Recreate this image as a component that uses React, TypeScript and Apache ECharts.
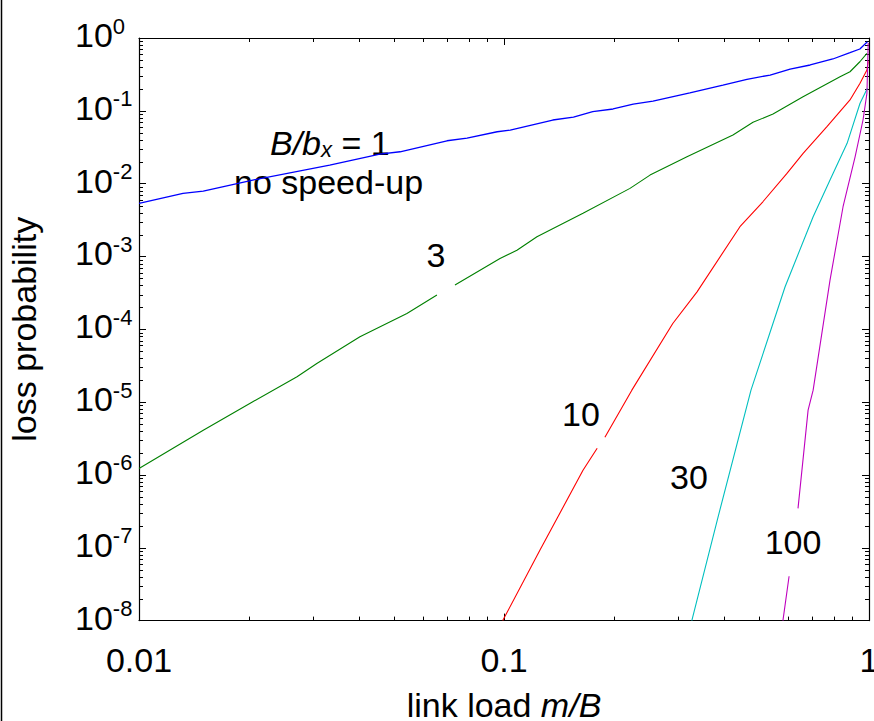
import React, { useEffect, useRef } from "react";
import * as echarts from "echarts";

// ---- data ----
const X_TICK_LABELS = ["0.01", "0.1", "1"]; // for 10^-2, 10^-1, 10^0
const Y_TICK_EXPONENTS = ["0", "-1", "-2", "-3", "-4", "-5", "-6", "-7", "-8"];

const blueX = [0.01, 0.0132, 0.015, 0.0205, 0.0333, 0.0457, 0.0519, 0.0698, 0.0792, 0.0958, 0.104, 0.136, 0.155, 0.175, 0.199, 0.226, 0.256, 0.323, 0.398, 0.463, 0.536, 0.608, 0.69, 0.796, 0.887, 0.944, 0.99];
const blueY = [5.36e-3, 7.36e-3, 7.91e-3, 0.0112, 0.018, 0.0255, 0.0274, 0.0388, 0.0423, 0.0516, 0.0545, 0.0748, 0.0822, 0.0972, 0.106, 0.124, 0.136, 0.177, 0.226, 0.271, 0.31, 0.375, 0.426, 0.515, 0.628, 0.706, 0.889];

const greenX = [0.01, 0.015, 0.0205, 0.0271, 0.0307, 0.0403, 0.0542, 0.0655, 0.07, 0.0734, 0.0975, 0.1085, 0.1231, 0.1646, 0.2214, 0.2512, 0.3172, 0.4239, 0.481, 0.5458, 0.6596, 0.833, 0.887, 0.944, 0.987];
const greenY = [1.23e-6, 4.12e-6, 1.01e-5, 2.23e-5, 3.4e-5, 7.89e-5, 1.65e-4, 2.95e-4, null, 4.05e-4, 9.4e-4, 1.22e-3, 1.87e-3, 3.91e-3, 8.61e-3, 0.0131, 0.0234, 0.0466, 0.0696, 0.0904, 0.156, 0.294, 0.344, 0.472, 0.616];

const redX = [0.0992, 0.1255, 0.1646, 0.18, 0.184, 0.189, 0.224, 0.29, 0.338, 0.443, 0.512, 0.596, 0.66, 0.767, 0.887, 0.945, 0.987, 0.995];
const redY = [1e-8, 9.3e-8, 1.16e-6, 2.33e-6, null, 3.3e-6, 1.46e-5, 1.2e-4, 3.27e-4, 2.56e-3, 5.64e-3, 0.0138, 0.0261, 0.0605, 0.141, 0.239, 0.363, 0.48];

const cyanX = [0.327, 0.386, 0.475, 0.589, 0.703, 0.782, 0.871, 0.945, 0.99];
const cyanY = [1e-8, 2.66e-7, 1.46e-5, 3.84e-4, 3.51e-3, 0.0112, 0.0358, 0.127, 0.204];

const magentaX = [0.581, 0.604, 0.62, 0.639, 0.681, 0.703, 0.782, 0.849, 0.916, 0.963, 0.987, 0.995];
const magentaY = [1e-8, 4.07e-8, null, 3.47e-7, 7.76e-6, 1.46e-5, 4.74e-4, 4.82e-3, 0.0234, 0.0748, 0.174, 0.853];

const SERIES = [
  { name: "1", x: blueX, y: blueY, color: "#0000ff", w: 1.3 },
  { name: "3", x: greenX, y: greenY, color: "#008000", w: 1.1 },
  { name: "10", x: redX, y: redY, color: "#ff0000", w: 1.1 },
  { name: "30", x: cyanX, y: cyanY, color: "#00bfbf", w: 1.1 },
  { name: "100", x: magentaX, y: magentaY, color: "#bf00bf", w: 1.1 },
];

const X_DECADES = [-2, -1];
const Y_DECADES = [-8, -7, -6, -5, -4, -3, -2, -1];
const MINOR_MULT = [2, 3, 4, 5, 6, 7, 8, 9];

const FONT = '"Liberation Sans", Arial, Helvetica, sans-serif';

export default function App() {
  const ref = useRef<HTMLDivElement>(null);

  useEffect(() => {
    if (!ref.current) return;
    const chart = echarts.init(ref.current, null, { renderer: "svg" });

    const minorTicks: number[][] = [];
    X_DECADES.forEach((d) => MINOR_MULT.forEach((m) => minorTicks.push([m * Math.pow(10, d), 1e-8, 0])));
    Y_DECADES.forEach((d) => MINOR_MULT.forEach((m) => minorTicks.push([0.01, m * Math.pow(10, d), 1])));

    const tickStyle = { lineStyle: { color: "#000", width: 1 } };

    const option: any = {
      animation: false,
      backgroundColor: "#fff",
      grid: { left: 139, right: 5, top: 38, bottom: 100.4, containLabel: false, outerBoundsMode: "none" },
      xAxis: [
        {
          type: "log",
          logBase: 10,
          min: 0.01,
          max: 1,
          position: "bottom",
          axisLine: { lineStyle: { color: "#000", width: 1.2 } },
          axisTick: { inside: true, length: 7, ...tickStyle },
          splitLine: { show: false },
          axisLabel: {
            margin: 22,
            fontSize: 34,
            fontFamily: FONT,
            color: "#000",
            formatter: (v: number) => X_TICK_LABELS[Math.round(Math.log10(v)) + 2],
          },
          name: "link load {i|m/B}",
          nameLocation: "middle",
          nameGap: 69,
          nameTextStyle: {
            fontSize: 34,
            lineHeight: 30,
            fontFamily: FONT,
            color: "#000",
            rich: { i: { fontSize: 34, lineHeight: 30, fontFamily: FONT, fontStyle: "italic", color: "#000" } },
          },
        },
        {
          type: "log",
          logBase: 10,
          min: 0.01,
          max: 1,
          position: "top",
          axisLine: { lineStyle: { color: "#000", width: 1.2 } },
          axisTick: { inside: true, length: 7, ...tickStyle },
          splitLine: { show: false },
          axisLabel: { show: false },
        },
      ],
      yAxis: [
        {
          type: "log",
          logBase: 10,
          min: 1e-8,
          max: 1,
          position: "left",
          axisLine: { lineStyle: { color: "#000", width: 1.2 } },
          axisTick: { inside: true, length: 7, ...tickStyle },
          splitLine: { show: false },
          axisLabel: {
            align: "left",
            margin: 64,
            verticalAlign: "middle",
            padding: [0, 0, 6, 0],
            formatter: (v: number) => `{b|10}{s|${Y_TICK_EXPONENTS[-Math.round(Math.log10(v))]}}`,
            rich: {
              b: { fontSize: 34, lineHeight: 40, fontFamily: FONT, color: "#000" },
              s: { fontSize: 22, lineHeight: 10, verticalAlign: "top", fontFamily: FONT, color: "#000" },
            },
          },
          name: "loss probability",
          nameLocation: "middle",
          nameGap: 98,
          nameTextStyle: { fontSize: 34, fontFamily: FONT, color: "#000" },
        },
        {
          type: "log",
          logBase: 10,
          min: 1e-8,
          max: 1,
          position: "right",
          axisLine: { lineStyle: { color: "#000", width: 1.2 } },
          axisTick: { inside: true, length: 7, ...tickStyle },
          splitLine: { show: false },
          axisLabel: { show: false },
        },
      ],
      series: [
        ...SERIES.map((s) => ({
          type: "line",
          name: s.name,
          xAxisIndex: 0,
          yAxisIndex: 0,
          data: s.x.map((v, i) => [v, s.y[i] == null ? "-" : s.y[i]]),
          showSymbol: false,
          symbol: "none",
          connectNulls: false,
          lineStyle: { color: s.color, width: s.w },
          silent: true,
          clip: true,
        })),
        {
          type: "custom",
          xAxisIndex: 0,
          yAxisIndex: 0,
          silent: true,
          data: minorTicks,
          renderItem: (params: any, api: any) => {
            const cs = params.coordSys;
            const kind = api.value(2);
            const st = { stroke: "#000", lineWidth: 1 };
            if (kind === 0) {
              const px = Math.round(api.coord([api.value(0), 1])[0]) + 0.5;
              return {
                type: "group",
                children: [
                  { type: "line", shape: { x1: px, y1: cs.y + cs.height, x2: px, y2: cs.y + cs.height - 4 }, style: st },
                  { type: "line", shape: { x1: px, y1: cs.y, x2: px, y2: cs.y + 4 }, style: st },
                ],
              };
            }
            const py = Math.round(api.coord([1, api.value(1)])[1]) + 0.5;
            return {
              type: "group",
              children: [
                { type: "line", shape: { x1: cs.x, y1: py, x2: cs.x + 4, y2: py }, style: st },
                { type: "line", shape: { x1: cs.x + cs.width, y1: py, x2: cs.x + cs.width - 4, y2: py }, style: st },
              ],
            };
          },
        },
      ],
      graphic: [
        { type: "line", shape: { x1: 1.5, y1: 0, x2: 1.5, y2: 721 }, style: { stroke: "#000", lineWidth: 1.5 }, silent: true },
        {
          type: "text",
          x: 270,
          y: 143,
          style: {
            text: "{i|B/b}{sub|x}{n| = 1}",
            align: "left",
            verticalAlign: "middle",
            textAlign: "left",
            textVerticalAlign: "middle",
            fill: "#000",
            fontSize: 34,
            fontFamily: FONT,
            rich: {
              i: { fontSize: 34, lineHeight: 34, fontStyle: "italic", fontFamily: FONT, fill: "#000" },
              sub: { fontSize: 22, lineHeight: 13, verticalAlign: "bottom", fontStyle: "italic", fontFamily: FONT, fill: "#000" },
              n: { fontSize: 34, lineHeight: 34, fontFamily: FONT, fill: "#000" },
            },
          },
          silent: true,
        },
        ...[
          { t: "no speed-up", x: 234, y: 182, a: "left" },
          { t: "3", x: 436, y: 255, a: "center" },
          { t: "10", x: 581, y: 414, a: "center" },
          { t: "30", x: 689, y: 477, a: "center" },
          { t: "100", x: 793, y: 542, a: "center" },
        ].map((l) => ({
          type: "text",
          x: l.x,
          y: l.y,
          silent: true,
          style: {
            text: l.t,
            align: l.a,
            verticalAlign: "middle",
            textAlign: l.a,
            textVerticalAlign: "middle",
            fill: "#000",
            fontSize: 34,
            fontFamily: FONT,
          },
        })),
      ],
    };

    chart.setOption(option);
    return () => chart.dispose();
  }, []);

  return (
    <div
      ref={ref}
      style={{ position: "fixed", left: 0, top: 0, width: 874, height: 721, background: "#fff" }}
    />
  );
}
